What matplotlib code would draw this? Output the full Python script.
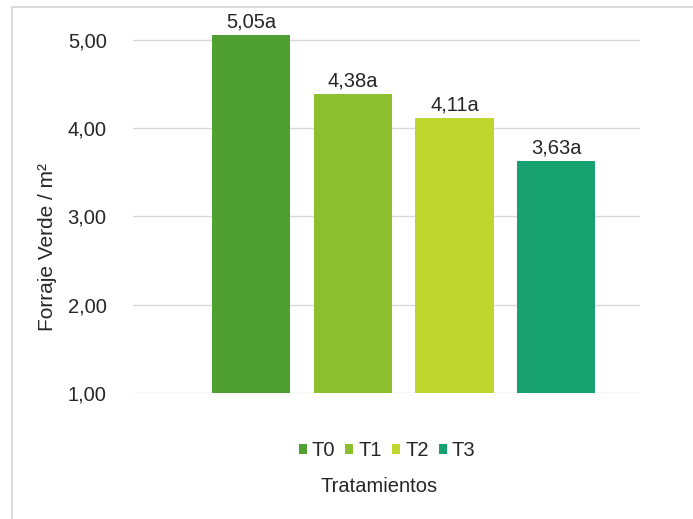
import numpy as np
import matplotlib.pyplot as plt
from matplotlib.patches import Rectangle
from matplotlib.ticker import FuncFormatter

plt.rcParams['font.family'] = ['Liberation Sans', 'DejaVu Sans']

tratamientos = ['T0', 'T1', 'T2', 'T3']
forraje = [5.05, 4.38, 4.11, 3.63]
letras = ['a', 'a', 'a', 'a']
colores = ['#4f9f31', '#8cbf2e', '#bfd62f', '#17a070']

fs = 14.5
txt = '#262626'

fig = plt.figure(figsize=(6.93, 5.19), dpi=100)

# thin gray frame around the chart area
fig.patches.append(Rectangle((12 / 693, -0.01), 1.0, 1 - 7 / 519 + 0.01,
                             transform=fig.transFigure, fill=False,
                             edgecolor='#d4d4d4', linewidth=1.2))

ax = fig.add_axes([0.192, 0.2428, 0.7315, 0.7232])

x = np.arange(len(tratamientos))
bars = ax.bar(x, forraje, width=0.77, color=colores, label=tratamientos,
              zorder=3, bottom=0)

for xi, v, l in zip(x, forraje, letras):
    ax.text(xi, v + 0.04, f'{v:.2f}'.replace('.', ',') + l, ha='center',
            va='bottom', fontsize=fs, color=txt)

ax.set_ylim(1, 5.25)
ax.set_xlim(-1.16, 3.825)
ax.set_yticks([1, 2, 3, 4, 5])
ax.yaxis.set_major_formatter(FuncFormatter(lambda v, p: f'{v:.2f}'.replace('.', ',')))
ax.set_xticks([])
ax.tick_params(axis='y', length=0, labelsize=fs, labelcolor=txt, pad=19)
ax.grid(axis='y', color='#d9d9d9', linewidth=1, zorder=0)
for s in ax.spines.values():
    s.set_visible(False)

ax.set_ylabel('Forraje Verde / m²', fontsize=15, color=txt)
ax.yaxis.set_label_coords(-0.150, 0.389)

fig.legend(bars, tratamientos, loc='center', bbox_to_anchor=(387 / 693, 1 - 451 / 519),
           ncol=4, frameon=False, fontsize=fs, handlelength=0.4, handleheight=0.4,
           handletextpad=0.25, columnspacing=0.5, labelcolor=txt)
fig.text(379 / 693, 1 - 486 / 519, 'Tratamientos', ha='center', va='center',
         fontsize=fs, color=txt)

fig.savefig('out.png', dpi=100)
